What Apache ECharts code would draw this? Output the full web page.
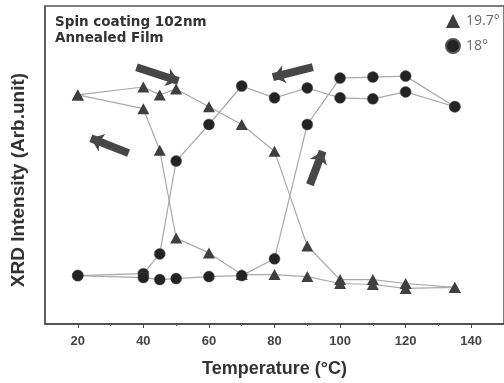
<!DOCTYPE html>
<html>
<head>
<meta charset="utf-8">
<script src="https://cdn.jsdelivr.net/npm/echarts@6/dist/echarts.min.js"></script>
<style>
  html, body { margin: 0; padding: 0; background: #fff; }
  #xrd { width: 504px; height: 383px; }
</style>
</head>
<body>
<div id="xrd"></div>
<script>
// temperatures (°C) where the XRD peaks were read
var temps = [20, 40, 45, 50, 60, 70, 80, 90, 100, 110, 120, 135];
// 19.7° peak, two branches
var tri_hi = [232, 240, 232, 238, 220, 202, 175, 79, 45, 45, 41, 37];
var tri_lo = [232, 218, 176, 87, 72, 50, 50, 48, 41, 40, 36, 37];
// 18° peak, two branches
var circ_early = [49, 51, 71, 165, 202, 241, 229, 239, 229, 228, 235, 220];
var circ_late = [49, 47, 45, 46, 48, 49, 66, 202, 249, 250, 251, 220];
// x tick labels
var xLabels = [20, 40, 60, 80, 100, 120, 140];
var xMinor = [30, 50, 70, 90, 110, 130];
// direction arrows [from, to] in data units
var arrows = [
  [[37.9, 260], [50.7, 246]],
  [[35.5, 173], [24, 188]],
  [[91.7, 260], [79.5, 250]],
  [[90.8, 141], [94.7, 175]]
];

function pairs(ys) {
  return temps.map(function (t, i) { return [t, ys[i]]; });
}

var lineGray = '#a9a9a9';
var triColor = '#3f3f3f';
var circColor = '#232323';

function triSeries(ys) {
  return {
    name: '19.7°', type: 'line', data: pairs(ys),
    symbol: 'triangle', symbolSize: [12, 11],
    itemStyle: { color: triColor },
    lineStyle: { color: lineGray, width: 1.2 },
    z: 3
  };
}
function circSeries(ys) {
  return {
    name: '18°', type: 'line', data: pairs(ys),
    symbol: 'circle', symbolSize: 11,
    itemStyle: { color: circColor, borderColor: '#555', borderWidth: 0.5 },
    lineStyle: { color: lineGray, width: 1.2 },
    z: 4
  };
}

var chart = echarts.init(document.getElementById('xrd'));
var option = {
  backgroundColor: '#fff',
  animation: false,
  title: {
    text: 'Spin coating 102nm\nAnnealed Film',
    left: 50, top: 9,
    textStyle: { fontFamily: 'DejaVu Sans', fontWeight: 'bold', fontSize: 13.5, lineHeight: 16, color: '#333' }
  },
  legend: {
    orient: 'vertical', left: 440, top: 9, itemGap: 10,
    itemWidth: 14, itemHeight: 14,
    data: [{ name: '19.7°', icon: 'triangle' }, { name: '18°', icon: 'circle' }],
    textStyle: { fontFamily: 'Open Sans', fontSize: 14, color: '#6a6a6a', padding: [0, 0, 0, 1] }
  },
  grid: {
    left: 45, right: -3, top: 6, bottom: 55,
    show: true, borderColor: '#555', borderWidth: 1.5
  },
  xAxis: [{
    type: 'value', min: 10, max: 150,
    name: 'Temperature (°C)', nameLocation: 'middle', nameGap: 36,
    nameTextStyle: { fontFamily: 'Liberation Sans', fontWeight: 'bold', fontSize: 18, color: '#333' },
    axisLine: { show: true, lineStyle: { color: '#444', width: 1.5 } },
    axisTick: { show: true, customValues: xLabels, length: 4, lineStyle: { color: '#444' } },
    axisLabel: { customValues: xLabels, margin: 11, fontFamily: 'Liberation Sans', fontWeight: 'bold', fontSize: 13, color: '#444' },
    splitLine: { show: false }
  }, {
    type: 'value', min: 10, max: 150, position: 'bottom',
    axisLine: { show: false },
    axisTick: { show: true, customValues: xMinor, length: 2, lineStyle: { color: '#555' } },
    axisLabel: { show: false },
    splitLine: { show: false }
  }],
  yAxis: {
    type: 'value', min: 0, max: 322,
    name: 'XRD Intensity (Arb.unit)', nameLocation: 'middle', nameGap: 17,
    nameTextStyle: { fontFamily: 'Liberation Sans', fontWeight: 'bold', fontSize: 19, color: '#333', padding: [0, 30, 0, 0] },
    axisLine: { show: true, lineStyle: { color: '#555', width: 1.5 } },
    axisTick: { show: false },
    axisLabel: { show: false },
    splitLine: { show: false }
  },
  series: [
    triSeries(tri_hi),
    triSeries(tri_lo),
    circSeries(circ_early),
    circSeries(circ_late),
    {
      name: 'arrows', type: 'scatter', data: [],
      markLine: {
        silent: true, symbol: ['none', 'arrow'], symbolSize: [14, 12],
        label: { show: false },
        lineStyle: { color: '#474747', width: 8, type: 'solid', opacity: 1 },
        data: arrows.map(function (a) {
          return [{ coord: a[0] }, { coord: a[1] }];
        })
      }
    }
  ]
};
chart.setOption(option);
</script>
</body>
</html>
